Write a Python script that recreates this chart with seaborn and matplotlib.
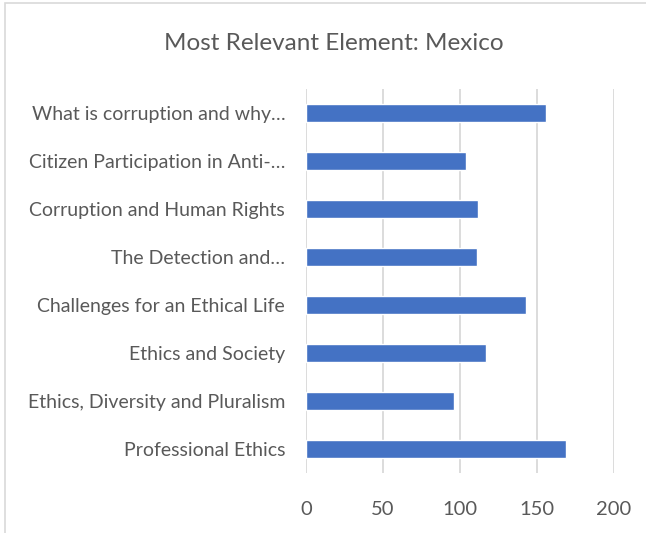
import matplotlib
matplotlib.use("Agg")
import matplotlib.pyplot as plt
from matplotlib.patches import Rectangle
import seaborn as sns
import pandas as pd

categories = [
    "What is corruption and why…",
    "Citizen Participation in Anti-…",
    "Corruption and Human Rights",
    "The Detection and…",
    "Challenges for an Ethical Life",
    "Ethics and Society",
    "Ethics, Diversity and Pluralism",
    "Professional Ethics",
]
values = [156, 104, 112, 111, 143, 117, 96, 169]
x_ticks = [0, 50, 100, 150, 200]

df = pd.DataFrame({"element": categories, "count": values})

sns.set_theme(style="white")
plt.rcParams["font.family"] = ["Lato", "DejaVu Sans"]

text_color = "#595959"
grid_color = "#d9d9d9"
bar_color = "#4472c4"

fig = plt.figure(figsize=(6.46, 5.33), dpi=100)
ax = fig.add_axes([306 / 646, 1 - 473 / 533, 308 / 646, 384 / 533])

sns.barplot(data=df, x="count", y="element", orient="h", color=bar_color,
            width=0.355, saturation=1, ax=ax)

ax.set_xlim(0, 200)
ax.set_xticks(x_ticks)
ax.set_xticklabels([str(t) for t in x_ticks])
ax.set_xlabel("")
ax.set_ylabel("")
ax.grid(axis="x", color=grid_color, linewidth=1.3)
ax.grid(axis="y", visible=False)
ax.set_axisbelow(True)
for s in ax.spines.values():
    s.set_visible(False)
ax.tick_params(axis="y", length=0, pad=15, labelsize=14, labelcolor=text_color)
ax.tick_params(axis="x", length=0, pad=20, labelsize=14.5, labelcolor=text_color)

fig.text(334 / 646, 1 - 43 / 533, "Most Relevant Element: Mexico", ha="center",
         va="center", fontsize=17.5, color=text_color)

# outer chart frame
fig.patches.append(Rectangle((5 / 646, -0.05), 1.1, 1 - 3 / 533 + 0.05,
                             transform=fig.transFigure, fill=False,
                             edgecolor=grid_color, linewidth=1.2))

fig.savefig("out.png", dpi=100)
